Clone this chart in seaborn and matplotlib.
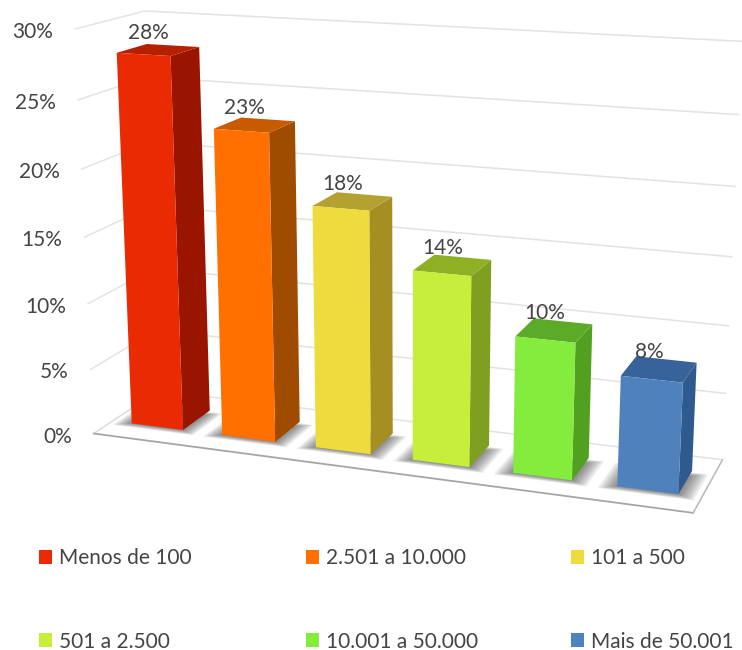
import numpy as np
import matplotlib
matplotlib.use("Agg")
import matplotlib.pyplot as plt
from matplotlib.patches import Polygon, Rectangle
from matplotlib.transforms import Affine2D, Transform
import seaborn as sns

categories = ["Menos de 100", "2.501 a 10.000", "101 a 500",
              "501 a 2.500", "10.001 a 50.000", "Mais de 50.001"]
values = [28, 23, 18, 14, 10, 8]
y_ticks = [0, 5, 10, 15, 20, 25, 30]

front_colors = ["#EA2A02", "#FF7000", "#EEDB3C", "#C6EE3A", "#84EC3C", "#4F81BD"]
side_colors = ["#991500", "#A04C00", "#A58F22", "#7F9F20", "#52A020", "#2F5A8E"]
top_colors = ["#B52000", "#C85A00", "#B3A232", "#8FAF25", "#5CAB28", "#38639A"]

W, H = 742, 650
BAR_W = 0.57
D_FRONT, D_BACK = 0.28, 0.72

# camera calibration: (category pos, depth, value) -> picture pixel
calib = [
    (-0.5, 0, 0, 92, 434), (5.5, 0, 0, 693, 515), (5.5, 1, 0, 724, 460),
    (-0.5, 1, 0, 160, 391), (-0.5, 1, 30, 145, 10), (5.5, 1, 30, 742, 41),
    (-0.5, 0, 30, 73, 29), (5.5, 1, 15, 733, 256),
    (-0.285, 0.28, 0, 133, 423), (0.285, 0.28, 0, 183, 429),
    (-0.285, 0.28, 28, 118, 53), (0.285, 0.28, 28, 172, 57),
    (0.285, 0.72, 28, 197, 48), (0.285, 0.72, 0, 207, 410),
    (0.715, 0.28, 23, 215, 129), (1.285, 0.28, 23, 270, 132),
    (0.715, 0.28, 0, 223, 436), (1.285, 0.28, 0, 275, 442),
    (3.715, 0.28, 10, 516, 337), (4.285, 0.28, 10, 574, 342),
    (3.715, 0.28, 0, 514, 471), (4.285, 0.28, 0, 573, 480),
    (4.715, 0.28, 8, 621, 377), (5.285, 0.28, 8, 683, 380),
    (4.715, 0.28, 0, 618, 486), (5.285, 0.28, 0, 679, 493),
    (5.285, 0.72, 8, 694, 365), (5.285, 0.72, 0, 690, 472),
]


def fit_camera(points):
    rows, rhs = [], []
    for u, d, v, px, py in points:
        X = [u, d, v, 1]
        rows.append(X + [0, 0, 0, 0] + [-px * u, -px * d, -px * v])
        rows.append([0, 0, 0, 0] + X + [-py * u, -py * d, -py * v])
        rhs += [px, py]
    sol = np.linalg.lstsq(np.array(rows, float), np.array(rhs, float), rcond=None)[0]
    return np.append(sol, 1).reshape(3, 4)


CAM = fit_camera(calib)


def project(u, d, v):
    p = CAM @ np.array([u, d, v, 1.0])
    return p[0] / p[2], p[1] / p[2]


class FrontFace(Transform):
    # takes bar data coords (x, value) to picture pixels on the plane of the front faces
    input_dims = 2
    output_dims = 2

    def transform_non_affine(self, xy):
        xy = np.asarray(xy, float)
        return np.array([project(x, D_FRONT, y) for x, y in xy]).reshape(-1, 2)


sns.set_theme(style="white")
plt.rcParams["font.family"] = ["Lato", "DejaVu Sans"]
TXT = "#444444"
FS = 15

fig = plt.figure(figsize=(W / 100, H / 100), dpi=100)
ax = fig.add_axes([0, 0, 1, 1])
ax.axis("off")
px = Affine2D().scale(1, -1).translate(0, H)


def poly(corners, **kw):
    kw.setdefault("lw", 0)
    ax.add_patch(Polygon(corners, closed=True, transform=px, clip_on=False, **kw))


def line(a, b, color, lw, z=1):
    ax.plot([a[0], b[0]], [a[1], b[1]], color=color, lw=lw, transform=px,
            clip_on=False, zorder=z, solid_capstyle="round")


# --- walls and floor ---
for v in y_ticks:
    if v > 0:
        line(project(-0.5, 0, v), project(-0.5, 1, v), "#e4e4e4", 1.1)
    line(project(-0.5, 1, v), project(5.5, 1, v), "#e2e2e2", 1.1)
    x0, y0 = project(-0.5, 0, v)
    ax.text(x0 - 22, y0 + 3, f"{v}%", transform=px, ha="right", va="center",
            fontsize=FS, color=TXT)

line(project(-0.5, 0, 0), project(-0.5, 1, 0), "#dcdcdc", 1.1)
line(project(-0.5, 0, 0), project(5.5, 0, 0), "#a6a6a6", 1.3, z=2)
line(project(5.5, 0, 0), project(5.5, 1, 0), "#b8b8b8", 1.1, z=2)

# --- bars ---
sns.barplot(x=categories, y=values, hue=categories, palette=front_colors,
            width=BAR_W, saturation=1, legend=False, ax=ax)
ax.axis("off")
front = FrontFace() + px

for i, bar in enumerate(ax.patches[:len(values)]):
    x0, x1 = bar.get_x(), bar.get_x() + bar.get_width()
    h = bar.get_height()

    # soft shadow on the floor, stacked thin layers
    for s in np.linspace(0.16, 0.0, 9):
        sd = s * 0.45
        poly([project(x0 - s, D_FRONT - sd, 0),
              project(x1 + s, D_FRONT - sd, 0),
              project(x1 + s, D_BACK - 0.1 + sd, 0),
              project(x0 - s, D_BACK - 0.1 + sd, 0)],
             facecolor="#303030", alpha=0.085, zorder=2)

    poly([project(x1, D_FRONT, 0), project(x1, D_BACK, 0),
          project(x1, D_BACK, h), project(x1, D_FRONT, h)],
         facecolor=side_colors[i], zorder=3 + i)
    poly([project(x0, D_FRONT, h), project(x1, D_FRONT, h),
          project(x1, D_BACK, h), project(x0, D_BACK, h)],
         facecolor=top_colors[i], zorder=3 + i)

    bar.set_transform(front)
    bar.set_clip_on(False)
    bar.set_linewidth(0)
    bar.set_zorder(3.5 + i)

    lx, ly = project(i, 0.5, h)
    ax.text(lx - 10, ly - 17, f"{values[i]}%", transform=px, ha="center", va="center",
            fontsize=FS, color=TXT, zorder=20)

# --- legend ---
leg_x = [39, 306, 571]
leg_y = [557, 640]
for i, name in enumerate(categories):
    lx = leg_x[i % 3]
    ly = leg_y[i // 3]
    ax.add_patch(Rectangle((lx, ly - 7), 13, 14, transform=px, clip_on=False,
                           facecolor=front_colors[i], edgecolor="none"))
    ax.text(lx + 20, ly + 1.5, name, transform=px, ha="left", va="center",
            fontsize=FS, color=TXT)

fig.savefig("out.png", dpi=100, facecolor="white")
